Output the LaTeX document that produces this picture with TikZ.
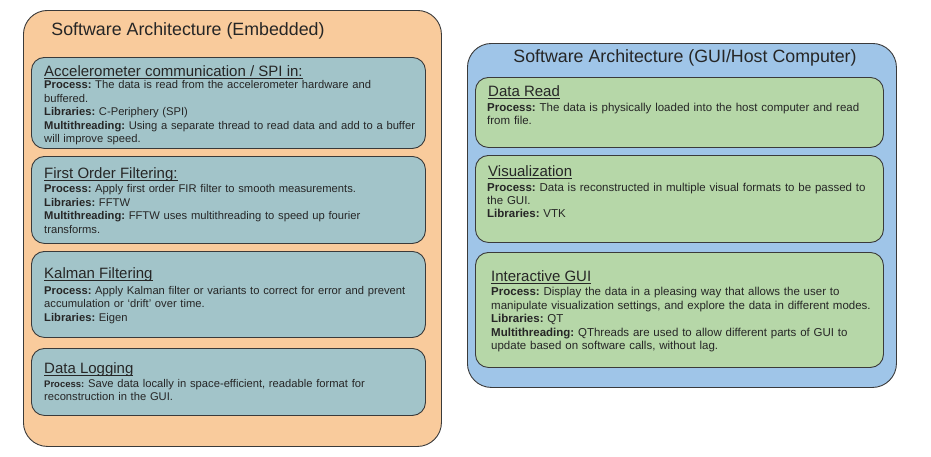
\documentclass[tikz,border=0pt]{standalone}
\usepackage{fontspec}
\setmainfont{Liberation Sans}
\frenchspacing
\definecolor{orangeF}{HTML}{F9CB9C}
\definecolor{tealF}{HTML}{A2C4C9}
\definecolor{blueF}{HTML}{9FC5E8}
\definecolor{greenF}{HTML}{B6D7A8}
\definecolor{edgeC}{HTML}{3A3A3A}
\newlength\hdw
\newcommand\hdline[1]{\settowidth\hdw{#1}\rlap{\rule[-2.4pt]{\hdw}{0.8pt}}#1}
\tikzset{
  outerbox/.style={draw=edgeC, line width=0.9pt, rounded corners=24pt, inner sep=0pt, anchor=north west},
  innerbox/.style={draw=edgeC, line width=0.9pt, rounded corners=13pt, fill=tealF, inner sep=0pt, anchor=north west},
  innerboxg/.style={innerbox, fill=greenF},
  titletext/.style={font=\fontsize{17.8}{20}\selectfont, text=black!85, inner sep=0pt, anchor=base},
  headtext/.style={font=\fontsize{15}{17}\selectfont, text=black!85, inner sep=0pt, anchor=base west},
  bodytext/.style={font=\fontsize{11.2}{13.5}\selectfont\frenchspacing, text=black!85, inner sep=0pt, anchor=north west, text width=420pt, align=left},
  bodytextr/.style={bodytext, font=\fontsize{11.5}{13.4}\selectfont\frenchspacing},
}
\begin{document}
\begin{tikzpicture}[x=1pt,y=-1pt]
\path[use as bounding box, fill=white] (0,0) rectangle (931,456);
% left container
\node[outerbox, fill=orangeF, minimum width=418pt, minimum height=436pt] (emb) at (23,10) {};
\node[titletext] (embt) at (188,35) {Software Architecture (Embedded)};
\node[innerbox, minimum width=394pt, minimum height=91pt] (b1) at (31,57) {};
\node[innerbox, minimum width=394pt, minimum height=87pt] (b2) at (31,156) {};
\node[innerbox, minimum width=394pt, minimum height=86pt] (b3) at (31,251) {};
\node[innerbox, minimum width=394pt, minimum height=67pt] (b4) at (31,348) {};
\node[headtext] (h1) at (44,76) {\hdline{Accelerometer communication / SPI in:}};
\node[bodytext] (t1) at (44,79.2) {\strut\textbf{Process:} The data is read from the accelerometer hardware and\\buffered.\\\textbf{Libraries:} C-Periphery (SPI)\\\textbf{Multithreading:} Using a separate thread to read data and add to a buffer\\will improve speed.};
\node[headtext] (h2) at (44,178.3) {\hdline{First Order Filtering:}};
\node[bodytext] (t2) at (44,182.9) {\strut\textbf{Process:} Apply first order FIR filter to smooth measurements.\\\textbf{Libraries:} FFTW\\\textbf{Multithreading:} FFTW uses multithreading to speed up fourier\\transforms.};
\node[headtext] (h3) at (44,278.3) {\hdline{Kalman Filtering}};
\node[bodytext] (t3) at (44,284.6) {\strut\textbf{Process:} Apply Kalman filter or variants to correct for error and prevent\\accumulation or `drift' over time.\\\textbf{Libraries:} Eigen};
\node[headtext] (h4) at (44,373) {\hdline{Data Logging}};
\node[bodytext] (t4) at (44,377.5) {\strut{\fontsize{9.5}{13.5}\selectfont\textbf{Process:}} Save data locally in space-efficient, readable format for\\reconstruction in the GUI.};
% right container
\node[outerbox, fill=blueF, minimum width=429pt, minimum height=344pt] (gui) at (467,43) {};
\node[titletext] (guit) at (685,62.7) {Software Architecture (GUI/Host Computer)};
\node[innerboxg, minimum width=408pt, minimum height=70pt] (r1) at (475,77) {};
\node[innerboxg, minimum width=408pt, minimum height=87pt] (r2) at (475,155) {};
\node[innerboxg, minimum width=408pt, minimum height=115pt] (r3) at (475,252) {};
\node[headtext] (rh1) at (488,96.7) {\hdline{Data Read}};
\node[bodytextr] (rt1) at (487,101.6) {\strut\textbf{Process:} The data is physically loaded into the host computer and read\\from file.};
\node[headtext] (rh2) at (488,176.7) {\hdline{Visualization}};
\node[bodytextr] (rt2) at (487,181.6) {\strut\textbf{Process:} Data is reconstructed in multiple visual formats to be passed to\\the GUI.\\\textbf{Libraries:} VTK};
\node[headtext] (rh3) at (491,281) {\hdline{Interactive GUI}};
\node[bodytextr] (rt3) at (491,286.4) {\strut\textbf{Process:} Display the data in a pleasing way that allows the user to\\manipulate visualization settings, and explore the data in different modes.\\\textbf{Libraries:} QT\\\textbf{Multithreading:} QThreads are used to allow different parts of GUI to\\update based on software calls, without lag.};
\end{tikzpicture}
\end{document}
